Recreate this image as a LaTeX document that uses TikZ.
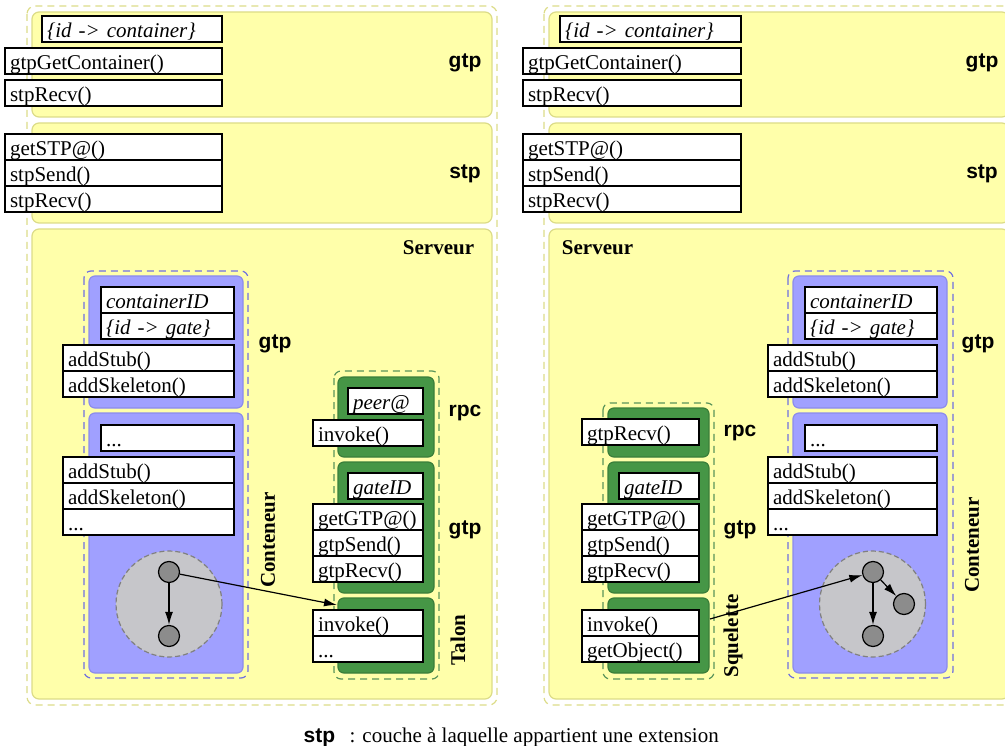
\documentclass[tikz,border=0pt]{standalone}
\usepackage{fontspec}
\setmainfont{Liberation Serif}
\setsansfont{Liberation Sans}
\usetikzlibrary{positioning,arrows.meta}

\definecolor{zonefill}{HTML}{FFFFAA}
\definecolor{zoneline}{HTML}{DCDC88}
\definecolor{contfill}{HTML}{A0A0FF}
\definecolor{contline}{HTML}{8C8CEC}
\definecolor{contdashline}{HTML}{7070E0}
\definecolor{stubfill}{HTML}{469646}
\definecolor{stubline}{HTML}{3A7E3A}
\definecolor{stubdashline}{HTML}{5A945A}
\definecolor{graphfill}{HTML}{C6C6CA}
\definecolor{objfill}{HTML}{8C8C8C}

\newcommand\diagfont{\fontsize{21}{25}\selectfont}

\tikzset{
  meth/.style={draw, fill=white, anchor=north west, outer sep=0pt, inner xsep=5pt,
    inner ysep=3pt, text width=#1pt-10pt, text height=18.5pt, text depth=1.5pt,
    align=left, font=\diagfont},
  attr/.style={meth=#1, font=\diagfont\itshape},
  layername/.style={font=\diagfont\sffamily\bfseries},
  heading/.style={font=\diagfont\bfseries},
  outerdash/.style={draw=zoneline, dash pattern=on 7pt off 5pt, rounded corners=8pt},
  zone/.style={draw=zoneline, fill=zonefill, rounded corners=7pt},
  contdash/.style={draw=contdashline, dash pattern=on 7pt off 5pt, rounded corners=7pt},
  contbox/.style={draw=contline, fill=contfill, rounded corners=6pt},
  stubdash/.style={draw=stubdashline, dash pattern=on 7pt off 5pt, rounded corners=7pt},
  stubbox/.style={draw=stubline, fill=stubfill, rounded corners=6pt},
  objzone/.style={draw=gray, fill=graphfill, dash pattern=on 5pt off 3pt},
  obj/.style={circle, draw, fill=objfill, minimum size=21pt, inner sep=0pt}
}

\begin{document}
\begin{tikzpicture}[x=1pt, y=-1pt, line width=1.2pt, >={Latex[length=13pt,width=8pt]}]
  \clip (0,0) rectangle (1005,746);

  % left side
  \draw[outerdash] (27,6) rectangle (497,705);
  \draw[zone] (32,12) rectangle (492,117);
  \draw[zone] (32,123) rectangle (492,223);
  \draw[zone] (32,229) rectangle (492,699);

  \node[layername] (gtpL) at (465,63) {gtp};
  \node[layername] (stpL) at (465,174) {stp};
  \node[heading, anchor=east] (servL) at (478,248) {Serveur};

  \node[attr=180] (idcont) at (42,16) {\{id -> container\}};
  \node[meth=217] (getcont) at (5,48) {gtpGetContainer()};
  \node[meth=217] (stprecvA) at (5,80) {stpRecv()};
  \node[meth=217] (getstp) at (5,134) {getSTP@()};
  \node[meth=217, below=0pt of getstp] (stpsend) {stpSend()};
  \node[meth=217, below=0pt of stpsend] (stprecvB) {stpRecv()};

  \draw[contdash] (84,271) rectangle (248,678);
  \draw[contbox] (89,276) rectangle (243,408);
  \draw[contbox] (89,413) rectangle (243,673);
  \node[attr=133] (cid) at (101,287) {containerID};
  \node[attr=133, below=0pt of cid] (idgate) {\{id -> gate\}};
  \node[meth=171] (addstub) at (63,345) {addStub()};
  \node[meth=171, below=0pt of addstub] (addskel) {addSkeleton()};
  \node[layername] (gtpC) at (275,344) {gtp};
  \node[meth=133] (dots) at (101,425) {...};
  \node[meth=171] (addstubB) at (63,457) {addStub()};
  \node[meth=171, below=0pt of addstubB] (addskelB) {addSkeleton()};
  \node[meth=171, below=0pt of addskelB] (dotsB) {...};
  \node[heading, rotate=90] (contL) at (268,540) {Conteneur};

  \draw[objzone] (169,604) circle (53);
  \node[obj] (objA) at (169,572) {};
  \node[obj] (objB) at (169,636) {};
  \draw[->] (objA) -- (objB);

  \draw[stubdash] (334,371) rectangle (439,679);
  \draw[stubbox] (338,377) rectangle (434,457);
  \draw[stubbox] (338,462) rectangle (434,593);
  \draw[stubbox] (338,598) rectangle (434,673);
  \node[attr=75] (peer) at (348,388) {peer@};
  \node[meth=110] (invoke) at (313,420) {invoke()};
  \node[layername] (rpcL) at (465,413) {rpc};
  \node[attr=75] (gateid) at (348,473) {gateID};
  \node[meth=110] (getgtp) at (313,504) {getGTP@()};
  \node[meth=110, below=0pt of getgtp] (gtpsend) {gtpSend()};
  \node[meth=110, below=0pt of gtpsend] (gtprecv) {gtpRecv()};
  \node[layername] (gtpT) at (465,530) {gtp};
  \node[meth=110] (invokeT) at (313,610) {invoke()};
  \node[meth=110, below=0pt of invokeT] (dotsT) {...};
  \node[heading, rotate=90] (talon) at (458,640) {Talon};
  \coordinate (talonIn) at (337,605);
  \draw[->] (objA) -- (talonIn);

  % right side
  \draw[outerdash] (544,6) rectangle (1014,705);
  \draw[zone] (549,12) rectangle (1009,117);
  \draw[zone] (549,123) rectangle (1009,223);
  \draw[zone] (549,229) rectangle (1009,699);

  \node[layername] (rgtpL) at (982,63) {gtp};
  \node[layername] (rstpL) at (982,174) {stp};
  \node[heading, anchor=west] (rservL) at (558,248) {Serveur};

  \node[attr=181] (ridcont) at (560,16) {\{id -> container\}};
  \node[meth=218] (rgetcont) at (523,48) {gtpGetContainer()};
  \node[meth=218] (rstprecvA) at (523,80) {stpRecv()};
  \node[meth=218] (rgetstp) at (523,134) {getSTP@()};
  \node[meth=218, below=0pt of rgetstp] (rstpsend) {stpSend()};
  \node[meth=218, below=0pt of rstpsend] (rstprecvB) {stpRecv()};

  \draw[contdash] (788,271) rectangle (953,678);
  \draw[contbox] (793,276) rectangle (947,408);
  \draw[contbox] (793,413) rectangle (947,673);
  \node[attr=132] (rcid) at (805,287) {containerID};
  \node[attr=132, below=0pt of rcid] (ridgate) {\{id -> gate\}};
  \node[meth=169] (raddstub) at (768,345) {addStub()};
  \node[meth=169, below=0pt of raddstub] (raddskel) {addSkeleton()};
  \node[layername] (rgtpC) at (978,344) {gtp};
  \node[meth=132] (rdots) at (805,425) {...};
  \node[meth=169] (raddstubB) at (768,457) {addStub()};
  \node[meth=169, below=0pt of raddstubB] (raddskelB) {addSkeleton()};
  \node[meth=169, below=0pt of raddskelB] (rdotsB) {...};
  \node[heading, rotate=90] (rcontL) at (972,545) {Conteneur};

  \draw[objzone] (872.5,604) circle (53);
  \node[obj] (robjA) at (873,572) {};
  \node[obj] (robjB) at (873,636) {};
  \node[obj] (robjC) at (904,604) {};
  \draw[->] (robjA) -- (robjB);
  \draw[->] (robjA) -- (robjC);

  \draw[stubdash] (603,403) rectangle (714,679);
  \draw[stubbox] (608,408) rectangle (709,457);
  \draw[stubbox] (608,462) rectangle (709,593);
  \draw[stubbox] (608,598) rectangle (709,673);
  \node[meth=117] (rrecv) at (582,419) {gtpRecv()};
  \node[layername] (rrpcL) at (740,433) {rpc};
  \node[attr=80] (rgateid) at (619,473) {gateID};
  \node[meth=117] (rgetgtp) at (582,504) {getGTP@()};
  \node[meth=117, below=0pt of rgetgtp] (rgtpsend) {gtpSend()};
  \node[meth=117, below=0pt of rgtpsend] (rgtprecv) {gtpRecv()};
  \node[layername] (rgtpS) at (740,530) {gtp};
  \node[meth=117] (rinvoke) at (582,610) {invoke()};
  \node[meth=117, below=0pt of rinvoke] (rgetobj) {getObject()};
  \node[heading, rotate=90] (squel) at (733,636) {Squelette};
  \coordinate (squelOut) at (710,619);
  \draw[->] (squelOut) -- (robjA);

  % legend
  \node[layername, anchor=base west, inner sep=0pt] (legkey) at (303,742) {stp};
  \node[font=\diagfont, anchor=base west, inner sep=0pt] (legtext) at (349,742) {: couche à laquelle appartient une extension};
\end{tikzpicture}
\end{document}
